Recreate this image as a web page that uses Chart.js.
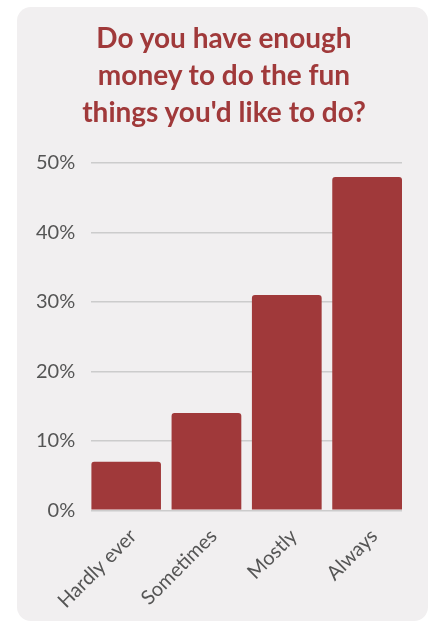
<!DOCTYPE html>
<html>
<head>
<meta charset="utf-8">
<script src="https://cdn.jsdelivr.net/npm/chart.js@4"></script>
<style>
  html, body { margin: 0; padding: 0; background: #fff; overflow: hidden; }
  .card {
    position: absolute; left: 17px; top: 7px;
    width: 411px; height: 614px;
    background: #f1eff0; border-radius: 14px;
  }
  .title {
    position: absolute; left: 0; top: 19px; width: 448px;
    text-align: center; color: #a0393a;
    font: bold 28px/37px Lato, sans-serif;
  }
  canvas { display: block; position: absolute; left: 17px; top: 7px; }
</style>
</head>
<body>
<div class="card"></div>
<canvas id="chart" width="411" height="614"></canvas>
<div class="title" id="title"></div>
<script>
const categories = ['Hardly ever', 'Sometimes', 'Mostly', 'Always'];
const values = [7, 14, 31, 48];
const yTicks = [0, 10, 20, 30, 40, 50];
const titleLines = ['Do you have enough', 'money to do the fun', "things you'd like to do?"];

const red = '#a0393a';
document.getElementById('title').innerHTML = titleLines.join('<br>');
const ctx = document.getElementById('chart').getContext('2d');

new Chart(ctx, {
    type: 'bar',
    data: {
        datasets: [{
            data: values.map((v, i) => ({ x: i, y: v })),
            backgroundColor: red,
            borderRadius: 3,
            borderSkipped: 'bottom',
            categoryPercentage: 1,
            barPercentage: 0.868
        }]
    },
    options: {
        responsive: false,
        animation: false,
        layout: { padding: { left: 3, right: 26, top: 156, bottom: 2 } },
        plugins: {
            legend: { display: false },
            tooltip: { enabled: false },
            title: { display: false }
        },
        scales: {
            x: {
                type: 'linear',
                offset: false,
                min: -0.434,
                max: 3.434,
                grid: { display: false },
                border: { display: false },
                ticks: {
                    stepSize: 1,
                    includeBounds: false,
                    autoSkip: false,
                    maxRotation: 45,
                    minRotation: 45,
                    color: '#555',
                    font: { family: 'Lato', size: 20 },
                    padding: 6,
                    labelOffset: 7,
                    callback: v => Number.isInteger(v) ? categories[v] : ''
                }
            },
            y: {
                min: 0,
                max: 50,
                grid: { color: '#cccccc', lineWidth: 1.5, drawTicks: false },
                border: { display: false },
                afterBuildTicks: axis => { axis.ticks = yTicks.map(v => ({ value: v })); },
                ticks: {
                    color: '#555',
                    font: { family: 'Lato', size: 20 },
                    padding: 16,
                    callback: v => v + '%'
                }
            }
        }
    }
});
</script>
</body>
</html>
